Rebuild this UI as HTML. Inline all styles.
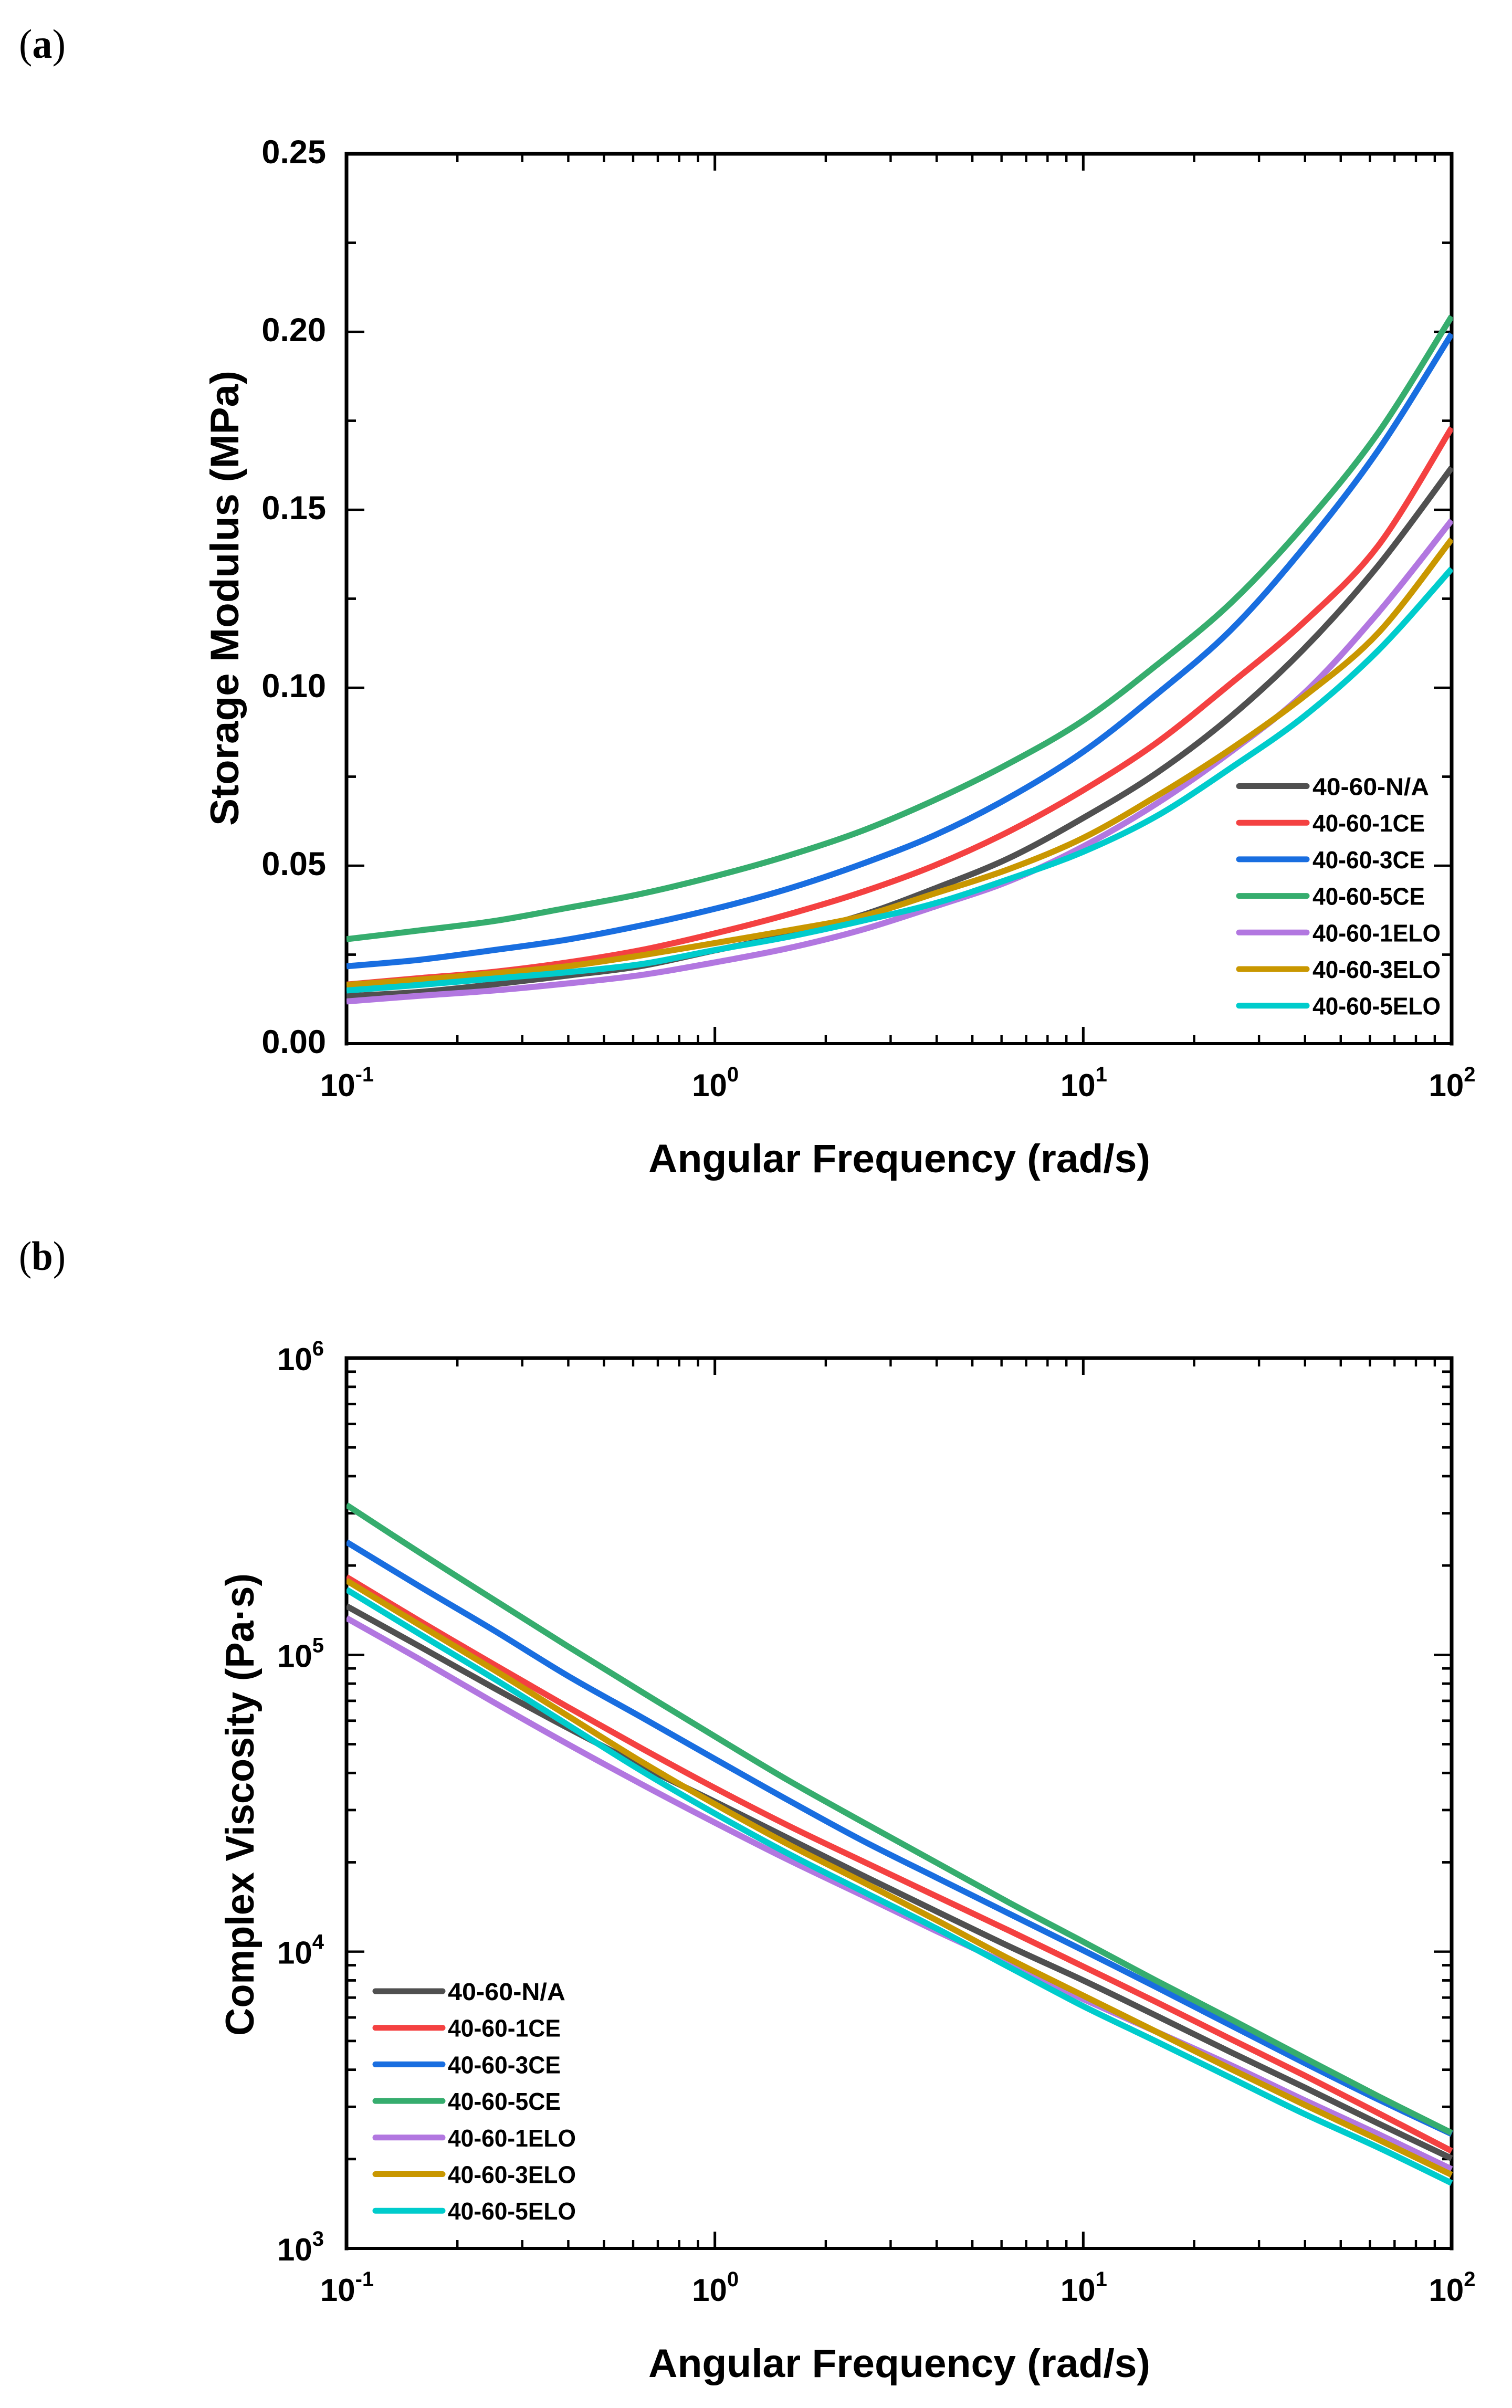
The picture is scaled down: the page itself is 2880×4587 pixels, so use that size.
<!DOCTYPE html>
<html lang="en">
<head>
<meta charset="utf-8">
<title>Storage modulus and complex viscosity vs angular frequency</title>
<style>
html,body{margin:0;padding:0;background:#fff;width:2880px;height:4587px;overflow:hidden}
svg{display:block;position:absolute;left:0;top:0}
text{font-family:"Liberation Sans","DejaVu Sans",sans-serif;font-weight:bold;fill:#000}
.panel{font-family:"Liberation Serif",serif;font-weight:normal;font-size:78px}
</style>
</head>
<body>
<svg id="figure" xmlns="http://www.w3.org/2000/svg" width="2880" height="4587" viewBox="0 0 2880 4587">
  <rect x="0" y="0" width="2880" height="4587" fill="#ffffff"/>
  <text class="panel" x="36" y="110" textLength="89" lengthAdjust="spacingAndGlyphs">(<tspan font-weight="bold">a</tspan>)</text>
  <text class="panel" x="36" y="2419" textLength="89" lengthAdjust="spacingAndGlyphs">(<tspan font-weight="bold">b</tspan>)</text>
  <g id="chart-a"></g>
  <g id="chart-b"></g>
</svg>
<script>
// ---------- shared data ----------
const frequencies = [0.1, 0.158, 0.251, 0.398, 0.631, 1, 1.58, 2.51, 3.98, 6.31, 10, 15.8, 25.1, 39.8, 63.1, 100];
const seriesNames = ["40-60-N/A", "40-60-1CE", "40-60-3CE", "40-60-5CE", "40-60-1ELO", "40-60-3ELO", "40-60-5ELO"];
const seriesColors = ["#505050", "#f44141", "#196ee0", "#36ad6e", "#b277e0", "#c99700", "#00cccc"];

// ---------- storage modulus (MPa) ----------
const storageNA   = [0.01334, 0.01452, 0.01665, 0.01912, 0.0218, 0.0262, 0.0305, 0.0361, 0.0437, 0.0522, 0.0634, 0.0760, 0.0918, 0.1110, 0.1342, 0.1618];
const storage1CE  = [0.0166, 0.0184, 0.02016, 0.02282, 0.02628, 0.03097, 0.0363, 0.0426, 0.0502, 0.0597, 0.0712, 0.0845, 0.1011, 0.1185, 0.1398, 0.1730];
const storage3CE  = [0.02174, 0.02356, 0.02628, 0.02924, 0.0332, 0.03789, 0.0435, 0.0505, 0.0587, 0.0692, 0.0820, 0.0981, 0.1161, 0.1395, 0.1666, 0.1994];
const storage5CE  = [0.02934, 0.03181, 0.03443, 0.03814, 0.04209, 0.04703, 0.0528, 0.0598, 0.0686, 0.0788, 0.0908, 0.1063, 0.1237, 0.1457, 0.1715, 0.2043];
const storage1ELO = [0.01186, 0.01344, 0.01492, 0.0169, 0.01927, 0.02282, 0.0268, 0.0320, 0.0386, 0.0457, 0.0554, 0.0674, 0.0819, 0.0985, 0.1210, 0.1470];
const storage3ELO = [0.0165, 0.01798, 0.01976, 0.02174, 0.0248, 0.02826, 0.0318, 0.0358, 0.0423, 0.0491, 0.0578, 0.0695, 0.0827, 0.0976, 0.1153, 0.1417];
const storage5ELO = [0.01492, 0.0165, 0.01828, 0.02006, 0.02233, 0.02628, 0.0300, 0.0345, 0.0395, 0.0463, 0.0539, 0.0639, 0.0774, 0.0920, 0.1104, 0.1334];

// ---------- complex viscosity (Pa·s) ----------
const viscosityNA   = [146000, 106700, 77400, 56800, 42300, 32000, 24100, 18100, 13700, 10400, 8000, 6080, 4590, 3490, 2640, 2010];
const viscosity1CE  = [183000, 130000, 92900, 66800, 48500, 35600, 26600, 20200, 15400, 11750, 8910, 6760, 5080, 3830, 2860, 2130];
const viscosity3CE  = [240000, 170000, 121000, 85100, 61700, 44600, 32400, 23700, 17800, 13400, 10100, 7590, 5650, 4220, 3180, 2430];
const viscosity5CE  = [320000, 221000, 153500, 107000, 75200, 53100, 37800, 27400, 20000, 14600, 10800, 7980, 5930, 4390, 3260, 2450];
const viscosity1ELO = [133000, 96600, 69200, 50100, 36700, 27200, 20400, 15500, 11750, 9020, 6920, 5370, 4150, 3160, 2430, 1850];
const viscosity3ELO = [178000, 126000, 89100, 62400, 43700, 31400, 23000, 17200, 12800, 9440, 7110, 5370, 4030, 3050, 2330, 1770];
const viscosity5ELO = [166000, 117500, 83200, 58200, 40700, 29200, 21400, 16000, 12000, 8850, 6550, 4980, 3760, 2840, 2190, 1660];

// ---------- tick values and labels ----------
const xDecades = [0.1, 1, 10, 100];
const xDecadeExponents = ["-1", "0", "1", "2"];
const storageTicks = [0, 0.05, 0.10, 0.15, 0.20, 0.25];
const storageTickLabels = ["0.00", "0.05", "0.10", "0.15", "0.20", "0.25"];
const storageMinorTicks = [0.025, 0.075, 0.125, 0.175, 0.225];
const viscosityDecades = [1000, 10000, 100000, 1000000];
const viscosityExponents = ["3", "4", "5", "6"];
const minorMultipliers = [2, 3, 4, 5, 6, 7, 8, 9];

const SVGNS = "http://www.w3.org/2000/svg";

function make(tag, parent, attrs) {
  const el = document.createElementNS(SVGNS, tag);
  for (const k in attrs) el.setAttribute(k, attrs[k]);
  parent.appendChild(el);
  return el;
}

function tickRect(parent, x, y, w, h, name) {
  const el = make("rect", parent, {x: x, y: y, width: w, height: h, fill: "#000"});
  
  
  return el;
}

function decadeLabel(parent, x, y, base, exponent, anchor, name) {
  const t = make("text", parent, {x: x, y: y, "font-size": 60, "text-anchor": anchor});
  t.textContent = base;
  const sup = make("tspan", t, {dy: -28, "font-size": 40});
  sup.textContent = exponent;
  
  
  return t;
}

// smooth curve through the data points (Catmull-Rom converted to cubic Beziers)
function smoothPath(px, py) {
  let d = "M" + px[0].toFixed(1) + "," + py[0].toFixed(1);
  for (let i = 0; i < px.length - 1; i++) {
    const i0 = Math.max(0, i - 1), i3 = Math.min(px.length - 1, i + 2);
    const c1x = px[i] + (px[i + 1] - px[i0]) / 6, c1y = py[i] + (py[i + 1] - py[i0]) / 6;
    const c2x = px[i + 1] - (px[i3] - px[i]) / 6, c2y = py[i + 1] - (py[i3] - py[i]) / 6;
    d += "C" + c1x.toFixed(1) + "," + c1y.toFixed(1) + " " + c2x.toFixed(1) + "," + c2y.toFixed(1) + " " + px[i + 1].toFixed(1) + "," + py[i + 1].toFixed(1);
  }
  return d;
}

function drawChart(cfg) {
  const root = document.getElementById(cfg.id);
  const {left, right, top, bottom} = cfg;
  const xScale = f => left + (Math.log10(f) + 1) / 3 * (right - left);

  // ticks
  const ticks = make("g", root, {});
  
  

  xDecades.forEach((d, i) => {
    const x = xScale(d);
    if (i > 0 && i < xDecades.length - 1) {
      tickRect(ticks, x - 2.5, bottom - 32, 5, 32, 'x-major-tick');
      tickRect(ticks, x - 2.5, top, 5, 32, 'x-major-tick-top');
    }
    if (i < xDecades.length - 1) {
      minorMultipliers.forEach(m => {
        const mx = xScale(d * m);
        tickRect(ticks, mx - 2.2, bottom - 16, 4.4, 16, 'x-minor-tick');
        tickRect(ticks, mx - 2.2, top, 4.4, 16, 'x-minor-tick-top');
      });
    }
    decadeLabel(root, x + 1, bottom + 100, "10", xDecadeExponents[i], "middle", 'x-tick-label');
  });

  cfg.yMajor.forEach(v => {
    const y = cfg.yScale(v);
    if (y > top + 3 && y < bottom - 3) {
      tickRect(ticks, left, y - 2.2, 34, 4.4, 'y-major-tick');
      tickRect(ticks, right - 34, y - 2.2, 34, 4.4, 'y-major-tick-right');
    }
  });
  cfg.yMinor.forEach(v => {
    const y = cfg.yScale(v);
    tickRect(ticks, left, y - 2.4, 18, 4.8, 'y-minor-tick');
    tickRect(ticks, right - 18, y - 2.4, 18, 4.8, 'y-minor-tick-right');
  });

  // frame
  const frame = make("g", root, {});
  
  
  tickRect(frame, left - 3.5, top - 3.5, 7, bottom - top + 7, 'left-axis-line');
  tickRect(frame, right - 3.5, top - 3.5, 7, bottom - top + 7, 'right-axis-line');
  tickRect(frame, left - 3.5, top - 3.5, right - left + 7, 7, 'top-axis-line');
  tickRect(frame, left - 3.5, bottom - 3, right - left + 7, 6, 'bottom-axis-line');

  // curves
  const clipId = cfg.id + "-clip";
  const defs = make("defs", root, {});
  const clip = make("clipPath", defs, {id: clipId});
  make("rect", clip, {x: left, y: top, width: right - left + 2, height: bottom - top});
  const curves = make("g", root, {"clip-path": "url(#" + clipId + ")"});
  
  
  cfg.series.forEach((values, i) => {
    const px = values.map((v, j) => xScale(frequencies[j]));
    const py = values.map(v => cfg.yScale(v));
    const line = make("path", curves, {d: smoothPath(px, py), fill: "none", stroke: seriesColors[i], "stroke-width": 11.5, "stroke-linejoin": "round"});
    
    
    line.setAttribute('data-series', seriesNames[i]);
  });

  // legend
  const legend = make("g", root, {});
  
  
  seriesNames.forEach((name, i) => {
    const y = cfg.legend.y + i * cfg.legend.step;
    const entry = make("g", legend, {});
    
    
    const swatch = make("line", entry, {x1: cfg.legend.x1 + 5, x2: cfg.legend.x2 - 5, y1: y, y2: y, stroke: seriesColors[i], "stroke-width": 11, "stroke-linecap": "round"});
    
    
    const t = make("text", entry, {x: cfg.legend.textX, y: y + 17, "font-size": 46, textLength: cfg.legend.widths[i], lengthAdjust: "spacingAndGlyphs"});
    t.textContent = name;
    
    
  });

  // titles
  const xt = make("text", root, {x: 1235, y: bottom + 245, "font-size": 76, textLength: 956, lengthAdjust: "spacingAndGlyphs"});
  xt.textContent = "Angular Frequency (rad/s)";
  
  
  const yt = make("text", root, {transform: "translate(" + cfg.yTitle.x + "," + cfg.yTitle.y + ") rotate(-90)", "font-size": 76, textLength: cfg.yTitle.len, lengthAdjust: "spacingAndGlyphs"});
  yt.textContent = cfg.yTitle.text;
  
  
}

// ---------- chart (a) ----------
const aTop = 293, aBottom = 1988;
const yStorage = v => aBottom - v / 0.25 * (aBottom - aTop);
drawChart({
  id: "chart-a", left: 660, right: 2765, top: aTop, bottom: aBottom,
  yScale: yStorage,
  yMajor: storageTicks, yMinor: storageMinorTicks,
  series: [storageNA, storage1CE, storage3CE, storage5CE, storage1ELO, storage3ELO, storage5ELO],
  legend: {x1: 2355, x2: 2494, textX: 2500, y: 1497.5, step: 69.7, widths: [222, 214, 214, 214, 244, 244, 244]},
  yTitle: {x: 454, y: 1573, len: 867, text: "Storage Modulus (MPa)"}
});
const aRoot = document.getElementById("chart-a");
storageTicks.forEach((v, i) => {
  const t = make("text", aRoot, {x: 621, y: yStorage(v) + 18, "font-size": 63, "text-anchor": "end"});
  t.textContent = storageTickLabels[i];
  
  
});

// ---------- chart (b) ----------
const bTop = 2587, bBottom = 4283;
const yViscosity = v => bBottom - (Math.log10(v) - 3) / 3 * (bBottom - bTop);
const viscosityMinors = [];
viscosityDecades.slice(0, 3).forEach(d => minorMultipliers.forEach(m => viscosityMinors.push(d * m)));
drawChart({
  id: "chart-b", left: 660, right: 2765, top: bTop, bottom: bBottom,
  yScale: yViscosity,
  yMajor: viscosityDecades, yMinor: viscosityMinors,
  series: [viscosityNA, viscosity1CE, viscosity3CE, viscosity5CE, viscosity1ELO, viscosity3ELO, viscosity5ELO],
  legend: {x1: 710, x2: 848, textX: 853, y: 3793, step: 69.7, widths: [224, 215, 215, 215, 244, 244, 244]},
  yTitle: {x: 483, y: 3878, len: 881, text: "Complex Viscosity (Pa\u00B7s)"}
});
const bRoot = document.getElementById("chart-b");
viscosityDecades.forEach((v, i) => {
  decadeLabel(bRoot, 528, yViscosity(v) + 23, "10", viscosityExponents[i], "start", 'y-tick-label');
});
</script>
</body>
</html>
